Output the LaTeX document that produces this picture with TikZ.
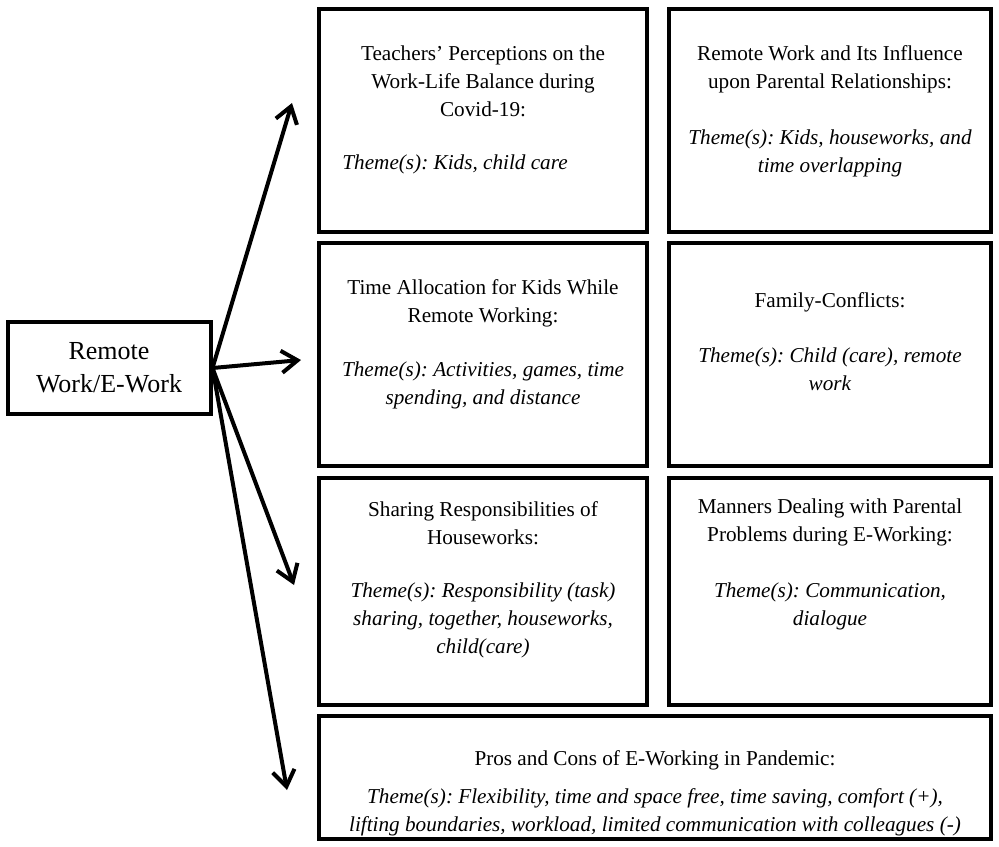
\documentclass[tikz,border=0pt]{standalone}
\usepackage{fontspec}
\setmainfont{Liberation Serif}
\frenchspacing
\usetikzlibrary{positioning, arrows.meta}

\tikzset{
	topic/.style={draw, line width=2pt, minimum width=#1},
	topictext/.style={inner sep=0pt, align=center, font=\fontsize{10.6}{14}\selectfont},
	hub/.style={draw, line width=2pt, align=center, inner sep=0pt,
		font=\fontsize{13}{16.5}\selectfont},
	flow/.style={line width=2pt, -{Straight Barb[length=8pt, width=11pt]}}
}

\begin{document}
\begin{tikzpicture}[x=0.5pt, y=-0.5pt]
		\useasboundingbox (0,0) rectangle (999,846);

		\node [hub, minimum width=101.5pt, minimum height=45.75pt] (hub) at (109,368) {Remote\\Work/E-Work};

		% the seven theme boxes
		\node [topic=164pt, minimum height=111.5pt] (perc) at (483,120.5) {};
		\node [topic=161pt, minimum height=111.5pt] (infl) at (830,120.5) {};
		\node [topic=164pt, minimum height=111.5pt] (alloc) at (483,354.5) {};
		\node [topic=161pt, minimum height=111.5pt] (confl) at (830,354.5) {};
		\node [topic=164pt, minimum height=113.5pt] (share) at (483,591.5) {};
		\node [topic=161pt, minimum height=113.5pt] (manner) at (830,591.5) {};
		\node [topic=336pt, minimum height=61.5pt] (pros) at (655,777.5) {};

		\node [topictext, below=19pt of perc.north] (perctitle) {Teachers’ Perceptions on the\\Work-Life Balance during\\Covid-19:};
		\node [topictext, anchor=west] (perctheme) at (342,164) {\textit{Theme(s): Kids, child care}};
		\node [topictext, below=19pt of infl.north] (infltext) {Remote Work and Its Influence\\upon Parental Relationships:\\[14pt]
			\textit{Theme(s): Kids, houseworks, and}\\\textit{time overlapping}};
		\node [topictext, below=19pt of alloc.north] (alloctext) {Time Allocation for Kids While\\Remote Working:\\[13pt]
			\textit{Theme(s): Activities, games, time}\\\textit{spending, and distance}};
		\node [topictext, below=25.5pt of confl.north] (confltext) {Family-Conflicts:\\[13.5pt]
			\textit{Theme(s): Child (care), remote}\\\textit{work}};
		\node [topictext, below=12.5pt of share.north] (sharetext) {Sharing Responsibilities of\\Houseworks:\\[12.5pt]
			\textit{Theme(s): Responsibility (task)}\\\textit{sharing, together, houseworks,}\\\textit{child(care)}};
		\node [topictext, below=11pt of manner.north] (mannertext) {Manners Dealing with Parental\\Problems during E-Working:\\[14pt]
			\textit{Theme(s): Communication,}\\\textit{dialogue}};
		\node [topictext, below=18pt of pros.north] (prostext) {Pros and Cons of E-Working in Pandemic:\\[5pt]
			\textit{Theme(s): Flexibility, time and space free, time saving, comfort (+),}\\
			\textit{lifting boundaries, workload, limited communication with colleagues (-)}};

		\coordinate (tip1) at (292,103);
		\coordinate (tip2) at (301,360);
		\coordinate (tip3) at (294,585);
		\coordinate (tip4) at (287,790);

		\begin{scope}[flow]
			\foreach \t in {tip1,tip2,tip3,tip4}
			{
				\draw (hub.east) -- (\t);
			}
		\end{scope}
	\end{tikzpicture}
\end{document}
